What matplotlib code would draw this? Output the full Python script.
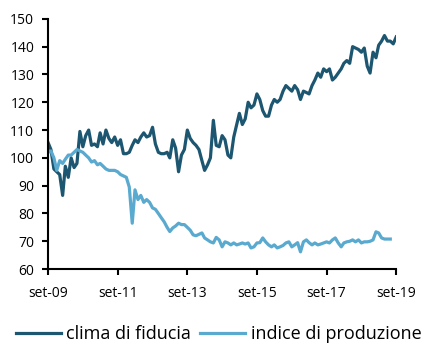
import pandas as pd
import matplotlib
matplotlib.use('Agg')
import matplotlib.pyplot as plt
import matplotlib.dates as mdates

# dati mensili (set-09 .. set-19)
clima = [105.5, 103, 96, 95, 94, 86.5, 97, 93, 100, 96.5,
         98, 109.5, 104, 108, 110, 104.5, 105, 104, 109, 105,
         110, 107, 105.5, 107.5, 104.5, 106.5, 101.5, 101.5, 102, 104.5,
         106.5, 105.5, 107.5, 109, 107.5, 108, 111, 105, 102, 101.5,
         101.5, 102, 100, 106.5, 103.5, 95, 101, 103, 110, 107,
         105.5, 104.5, 103, 99, 95.5, 97.5, 100, 113.5, 104.5, 104,
         108, 106.5, 101, 100, 107.5, 112, 116, 112, 114, 120,
         118, 119, 123, 121, 117, 115, 115, 119, 121, 120,
         121, 124, 126, 125, 124, 126, 124.5, 121, 124, 123.5,
         123, 126, 128, 130.5, 129, 132, 131, 132, 128, 129,
         130.5, 132, 134, 135, 134, 140, 139.5, 139, 138, 139.5,
         133, 130.5, 138, 136, 140.5, 142, 144, 142, 142, 141,
         143.5]

produzione = [102, 102.5, 100, 95.5, 99, 98, 99.5, 101, 101, 102,
              103, 102.5, 102, 101, 100, 98.5, 99, 97.5, 98, 97,
              96, 95.5, 95.5, 95.5, 95, 94, 93.5, 93, 89.5, 76.5,
              88.5, 85, 86.5, 84, 85, 84, 82, 81.5, 80, 78.5,
              77, 75, 73.5, 74.8, 75.5, 76.5, 76, 76, 75, 74,
              72.3, 72, 72.5, 73, 71.2, 70.5, 69.8, 69.4, 71.4, 70.5,
              68, 69.8, 69.4, 68.7, 69.4, 68.7, 69, 69.4, 69, 69.4,
              67.6, 68, 69.4, 69.5, 71.2, 69.8, 68.7, 68, 68.7, 67.6,
              68, 68.5, 69.4, 69.8, 68, 68.7, 69.5, 66.2, 69.8, 70.5,
              69.5, 68.7, 69.4, 68.7, 69, 69.4, 69.8, 69.4, 70.5, 71.2,
              69.4, 68, 69.4, 69.8, 70, 70.5, 69.8, 70.5, 69.4, 69.8,
              69.8, 70, 70.5, 73.4, 73, 71.2, 70.8, 70.8, 70.8]

date_clima = pd.date_range('2009-09-01', periods=len(clima), freq='MS')
date_prod = pd.date_range('2009-09-01', periods=len(produzione), freq='MS')

plt.rcParams['font.family'] = ['Open Sans', 'DejaVu Sans']

fig = plt.figure(figsize=(4.33, 3.49), dpi=100)
ax = fig.add_axes([0.111, 0.229, 0.804, 0.717])

ax.plot(date_clima, clima, color='#1d5670', lw=2.3, label='clima di fiducia')
ax.plot(date_prod, produzione, color='#5aa9cf', lw=2.3, label='indice di produzione')

ax.set_ylim(60, 150)
ax.set_yticks(range(60, 151, 10))
ax.set_xlim(pd.Timestamp('2009-09-01'), pd.Timestamp('2019-09-01'))
ax.xaxis.set_major_locator(mdates.MonthLocator(bymonth=9, interval=24))
ax.xaxis.set_major_formatter(mdates.DateFormatter('set-%y'))

for s in ['top', 'right']:
    ax.spines[s].set_visible(False)
for s in ['left', 'bottom']:
    ax.spines[s].set_linewidth(1.5)
ax.tick_params(axis='both', direction='out', length=4, width=1.5, labelsize=10)
ax.tick_params(axis='x', pad=8)
ax.tick_params(axis='y', pad=6)

ax.legend(loc='upper center', bbox_to_anchor=(0.49, -0.195), ncol=2, frameon=False,
          fontsize=13, handlelength=2.5, handletextpad=0.3, columnspacing=0.5,
          borderaxespad=0)

fig.savefig('out.png', dpi=100)
